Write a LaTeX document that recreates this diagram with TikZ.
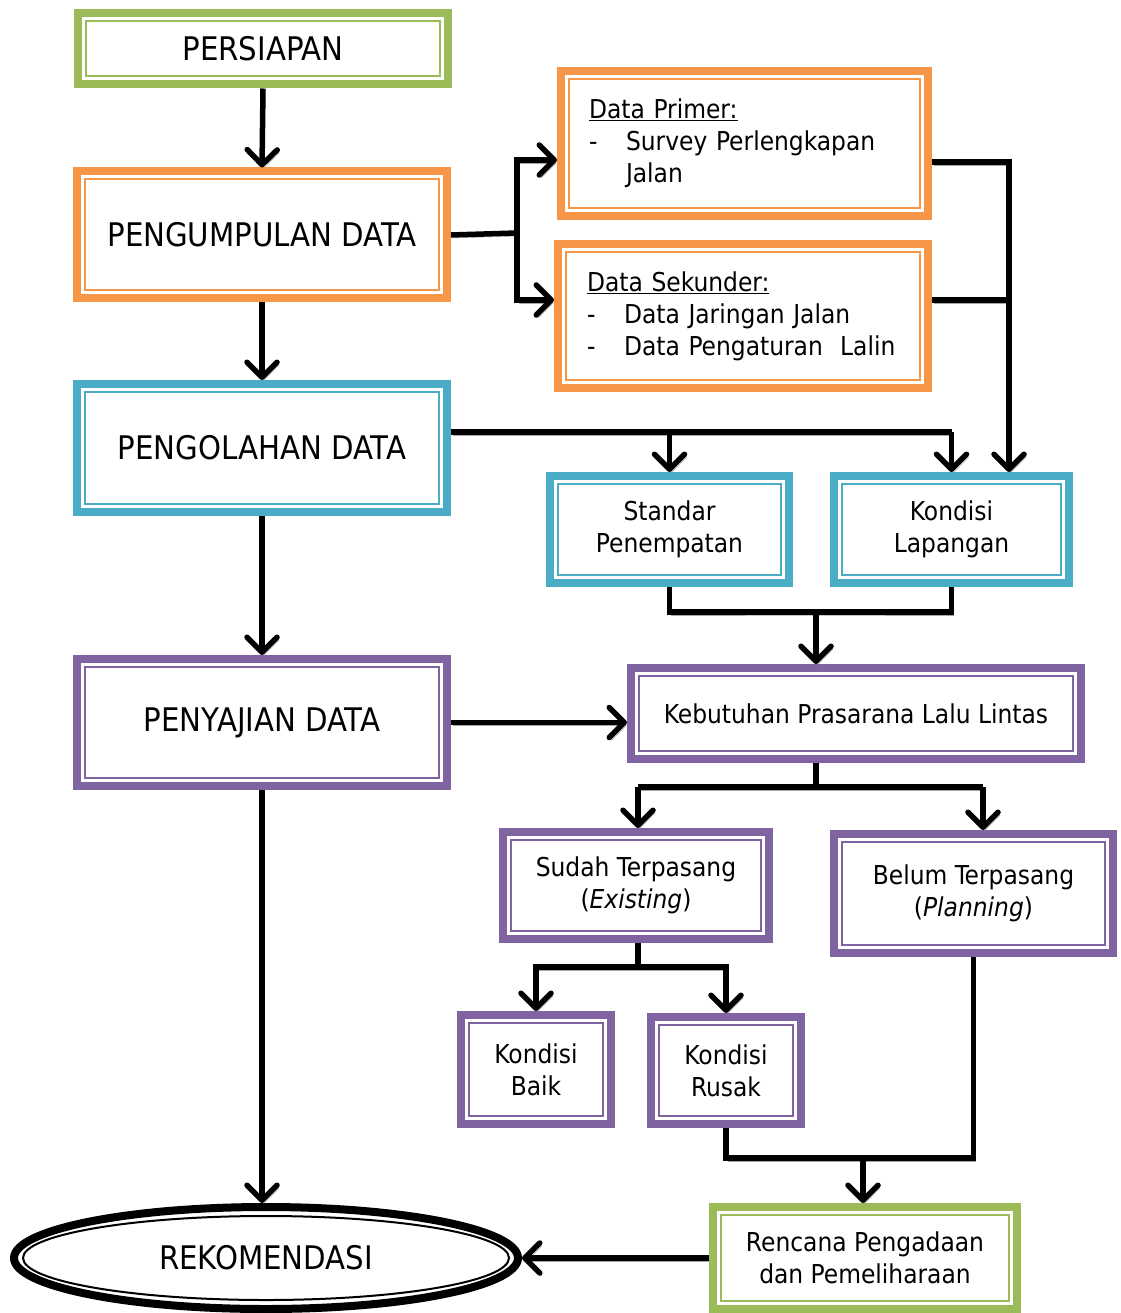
\documentclass[tikz,border=0pt]{standalone}
\usepackage{fontspec}
\setmainfont{DejaVu Sans Condensed}
\usetikzlibrary{arrows.meta, shapes.geometric}

\definecolor{cgreen}{HTML}{9BBB59}
\definecolor{corange}{HTML}{F79646}
\definecolor{cblue}{HTML}{4BACC6}
\definecolor{cpurple}{HTML}{8064A2}

\tikzset{
	box/.style={draw=#1, line width=8pt, fill=white, align=center,
		font=\fontsize{26}{32}\selectfont,
		path picture={\draw[#1, line width=2pt]
			([shift={(8pt,8pt)}]path picture bounding box.south west) rectangle
			([shift={(-8pt,-8pt)}]path picture bounding box.north east);}},
	big/.style={font=\fontsize{32.5}{38}\selectfont},
	ln/.style={line width=5.5pt, preaction={draw=black!35, transform canvas={shift={(2pt,-3pt)}}}},
	arr/.style={ln, -{Straight Barb[length=15pt, width=30pt, line width=5.5pt, round]}}
}
\newcommand{\dash}{\makebox[37pt][l]{-}}

\begin{document}
\begin{tikzpicture}[x=1pt, y=-1pt]
	\useasboundingbox (0,0) rectangle (1120,1313);
	% kolom kiri
	\node[box=cgreen, big, minimum width=370, minimum height=71] (prs) at (263,49) {PERSIAPAN};
	\node[box=corange, big, minimum width=370, minimum height=127] (pgd) at (262,235) {PENGUMPULAN DATA};
	\node[box=cblue, big, minimum width=370, minimum height=128] (pgl) at (262,448) {PENGOLAHAN DATA};
	\node[box=cpurple, big, minimum width=370, minimum height=127] (pny) at (262,722.5) {PENYAJIAN DATA};
	\node[draw, ellipse, line width=8pt, fill=white, big, minimum width=504, minimum height=102,
		path picture={\draw[line width=2pt] (path picture bounding box.center) ellipse [x radius=243pt, y radius=42pt];}]
		(rek) at (266,1258) {REKOMENDASI};
	% data
	\node[box=corange, minimum width=367, minimum height=145, text width=311, inner xsep=20, align=left]
		(prim) at (744.5,143.5) {\underline{Data Primer:}\\ \mbox{\dash Survey Perlengkapan}\\ \hspace*{37pt}Jalan};
	\node[box=corange, minimum width=370, minimum height=144, text width=312, inner xsep=20, align=left]
		(sek) at (743,316) {\underline{Data Sekunder:}\\ \mbox{\dash Data Jaringan Jalan}\\ \mbox{\dash Data Pengaturan\ \ Lalin}};
	% pengolahan
	\node[box=cblue, minimum width=239, minimum height=107] (std) at (669.5,529.5) {Standar\\ Penempatan};
	\node[box=cblue, minimum width=235, minimum height=107] (kl) at (951.5,529.5) {Kondisi\\ Lapangan};
	% penyajian
	\node[box=cpurple, minimum width=450, minimum height=91] (kbt) at (856,713.5) {Kebutuhan Prasarana Lalu Lintas};
	\node[box=cpurple, minimum width=266, minimum height=107] (sdh) at (636,885.5) {Sudah Terpasang\\ (\textit{Existing})};
	\node[box=cpurple, minimum width=279, minimum height=119] (blm) at (973.5,893.5) {Belum Terpasang\\ (\textit{Planning})};
	\node[box=cpurple, minimum width=150, minimum height=109] (baik) at (536,1069.5) {Kondisi\\ Baik};
	\node[box=cpurple, minimum width=150, minimum height=107] (rsk) at (726,1070.5) {Kondisi\\ Rusak};
	\node[box=cgreen, minimum width=304, minimum height=102] (rnc) at (865,1258) {Rencana Pengadaan\\ dan Pemeliharaan};

	% titik cabang
	\coordinate (j1) at (517,233);
	\coordinate (j1a) at (517,160);
	\coordinate (j1b) at (517,300);
	\coordinate (j2a) at (1009,162);
	\coordinate (j2b) at (1009,300);
	\coordinate (j3) at (951.5,432);
	\coordinate (j4) at (816,612);
	\coordinate (j5) at (816,787);
	\coordinate (j5a) at (638,787);
	\coordinate (j5b) at (983,787);
	\coordinate (j6) at (638,967);
	\coordinate (j7) at (863,1158);

	% panah
	\draw[arr] (prs.south) -- (pgd.north);
	\draw[arr] (pgd.south) -- (pgl.north);
	\draw[arr] (pgl.south) -- (pny.north);
	\draw[arr] (pny.south) -- (rek.north -| pny.south);

	\draw[ln] (pgd.east) -- (j1);
	\draw[arr] (j1) -- (j1a) -- (prim.west |- j1a);
	\draw[arr] (j1) -- (j1b) -- (sek.west |- j1b);

	\draw[ln] (prim.east |- j2a) -- (j2a) -- (j2b);
	\draw[arr] (sek.east |- j2b) -- (j2b) -- (kl.north -| j2b);

	\draw[ln] (pgl.east |- j3) -- (j3);
	\draw[arr] (std.north |- j3) -- (std.north);
	\draw[arr] (j3) -- (kl.north);

	\draw[ln] (std.south) |- (j4) -| (kl.south);
	\draw[arr] (j4) -- (kbt.north -| j4);

	\draw[arr] (pny.east) -- (kbt.west |- pny.east);

	\draw[ln] (kbt.south -| j5) -- (j5);
	\draw[ln] (j5a) -- (j5b);
	\draw[arr] (j5a) -- (sdh.north -| j5a);
	\draw[arr] (j5b) -- (blm.north -| j5b);

	\draw[ln] (sdh.south -| j6) -- (j6);
	\draw[arr] (j6) -| (baik.north);
	\draw[arr] (j6) -| (rsk.north);

	\draw[ln] (rsk.south) |- (j7) -| (blm.south);
	\draw[arr] (j7) -- (rnc.north -| j7);

	\draw[arr] (rnc.west) -- (rek.east);
\end{tikzpicture}
\end{document}
